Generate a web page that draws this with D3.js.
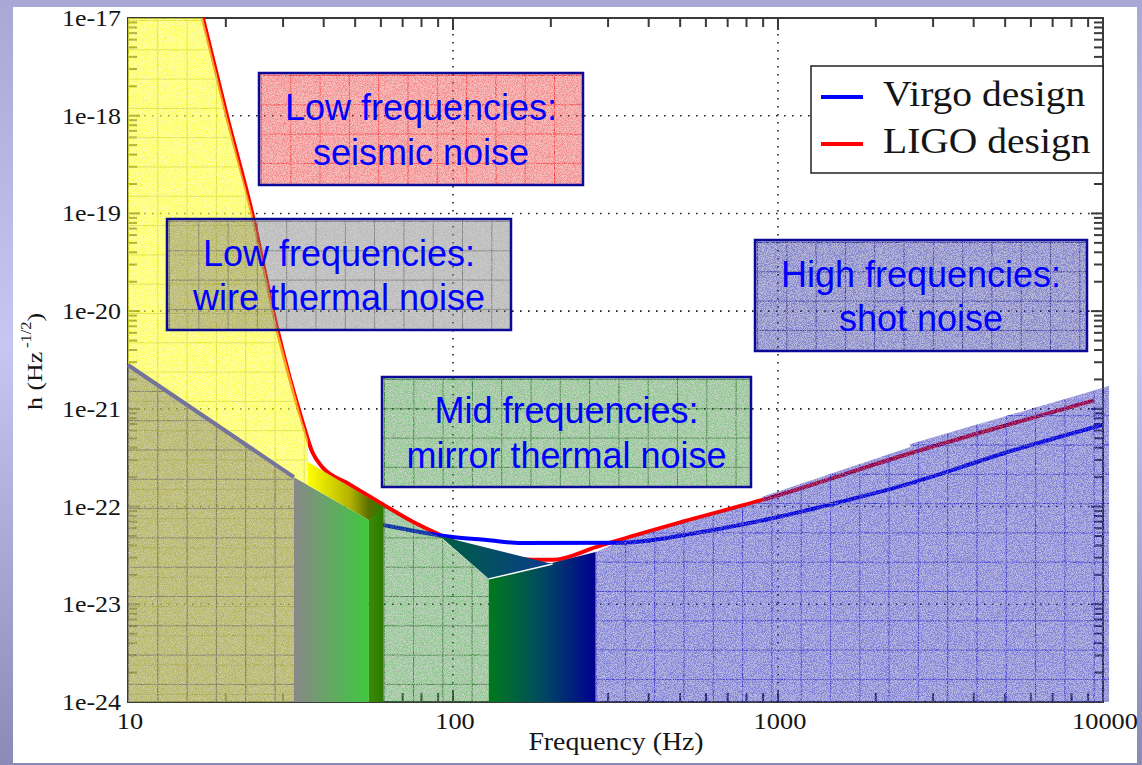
<!DOCTYPE html>
<html>
<head>
<meta charset="utf-8">
<script src="https://cdn.jsdelivr.net/npm/d3@7"></script>
<style>
  html, body { margin: 0; padding: 0; background: #fff; }
  svg { display: block; }
  .serif { font-family: "Liberation Serif", "Times New Roman", serif; fill: #151515; }
  .note { font-family: "Liberation Sans", Arial, sans-serif; font-size: 36px; fill: #0000ff; text-anchor: middle; }
</style>
</head>
<body>
<svg id="chart" width="1142" height="765"></svg>
<script>
// design sensitivity curves (Hz, strain / sqrt(Hz))
const ligoFreq = [17.0, 20.2, 24.1, 28.7, 34.3, 37.0, 39.8, 47.1, 61.2, 75.2, 91.0, 120.8, 175.8, 202.5, 276.6, 325.5, 508, 895, 2553, 9390];
const ligoStrain = [1e-17, 9.7e-19, 1.01e-19, 6.89e-21, 7.69e-22, 3.55e-22, 2.49e-22, 1.75e-22, 1.04e-22, 6.98e-23, 5.14e-23, 3.44e-23, 2.85e-23, 2.85e-23, 3.87e-23, 4.57e-23, 7.0e-23, 1.17e-22, 3.51e-22, 1.22e-21];
const virgoFreq = [58, 79.0, 99.8, 127, 160.3, 327.9, 589.8, 961, 1566, 2553, 5330, 9936];
const virgoStrain = [6.7e-23, 5.50e-23, 4.88e-23, 4.55e-23, 4.24e-23, 4.27e-23, 5.53e-23, 7.59e-23, 1.12e-22, 1.73e-22, 3.79e-22, 6.84e-22];
const wireFreq = [10, 32.4];
const wireStrain = [2.81e-21, 2.0e-22];

// shaded noise bands, [frequency, strain] corners
const seismicBand = [[10, 1e-17], [17, 1e-17], [20.2, 9.7e-19], [24.1, 1.01e-19], [28.7, 6.89e-21], [34.3, 7.69e-22], [35.8, 4.79e-22], [35.8, 1e-24], [10, 1e-24]];
const wireBand = [[10, 2.81e-21], [32.4, 2.0e-22], [32.4, 1e-24], [10, 1e-24]];
const mirrorBand = [[61.2, 9.9e-23], [75.2, 6.65e-23], [91, 4.9e-23], [128.8, 1.82e-23], [128.8, 1e-24], [61.2, 1e-24]];
const shotBand = [[274.6, 3.43e-23], [325.5, 4.4e-23], [508, 6.7e-23], [895, 1.13e-22], [895, 1.26e-22], [2553, 4.07e-22], [2553, 4.37e-22], [10440, 1.71e-21], [10440, 1e-24], [274.6, 1e-24]];
const grayToGreen = [[32.4, 2.0e-22], [55.1, 7.28e-23], [55.1, 1e-24], [32.4, 1e-24]];
const darkStrip = [[55.1, 1.22e-22], [61.2, 9.9e-23], [61.2, 1e-24], [55.1, 1e-24]];
const yellowToGreen = [[35.8, 2.86e-22], [61.2, 9.9e-23], [55.1, 7.28e-23], [35.8, 1.66e-22]];
const greenToBlueUpper = [[91, 5.0e-23], [202.5, 2.58e-23], [128.8, 1.82e-23]];
const greenToBlue = [[128.8, 1.82e-23], [274.6, 3.43e-23], [274.6, 1e-24], [128.8, 1e-24]];

const noteLabels = [
  ['Low frequencies:', 'seismic noise'],
  ['Low frequencies:', 'wire thermal noise'],
  ['Mid frequencies:', 'mirror thermal noise'],
  ['High frequencies:', 'shot noise']
];
const legendLabels = ['Virgo design', 'LIGO design'];
const xTitle = 'Frequency (Hz)';

const WIDTH = 1142, HEIGHT = 765;
const PLOT = { LEFT: 128, RIGHT: 1103, TOP: 18, BOTTOM: 702 };

const noteBoxes = [
  { x: 259, y: 73, w: 324, h: 112, fill: '#e60000', alpha: 0.42, grid: '#ff1414' },
  { x: 167, y: 219, w: 344, h: 111, fill: '#6e6e6e', alpha: 0.44, grid: '#5a5a5a' },
  { x: 382, y: 377, w: 369, h: 110, fill: '#008000', alpha: 0.42, grid: '#0a640a' },
  { x: 755, y: 240, w: 332, h: 111, fill: '#00009a', alpha: 0.46, grid: '#12128a' }
];

const svg = d3.select('#chart');
const defs = svg.append('defs');

const x = d3.scaleLog().domain([10, 10000]).range([PLOT.LEFT, PLOT.RIGHT]);
const y = d3.scaleLog().domain([1e-24, 1e-17]).range([PLOT.BOTTOM, PLOT.TOP]);
const path = d3.line().x(d => x(d[0])).y(d => y(d[1]));
const shape = pts => path(pts) + 'Z';
const isDecade = v => Math.abs(Math.log10(v) - Math.round(Math.log10(v))) < 1e-6;

function gradient(id, stops, x1, y1, x2, y2) {
  const g = defs.append('linearGradient').attr('id', id)
    .attr('gradientUnits', 'userSpaceOnUse')
    .attr('x1', x1).attr('y1', y1).attr('x2', x2).attr('y2', y2);
  stops.forEach(([o, c]) => g.append('stop').attr('offset', o).attr('stop-color', c));
  return `url(#${id})`;
}

function gridPattern(id, color, ox, oy) {
  const p = defs.append('pattern').attr('id', id)
    .attr('patternUnits', 'userSpaceOnUse')
    .attr('x', ox).attr('y', oy).attr('width', 29.3).attr('height', 29.3);
  p.append('path').attr('d', 'M0 0.5H29.3M0.5 0V29.3')
    .attr('stroke', color).attr('stroke-opacity', 0.6).attr('stroke-width', 1).attr('fill', 'none');
  return `url(#${id})`;
}

// speckled texture of the pasted shapes, kept faint
const grain = defs.append('filter').attr('id', 'grain')
  .attr('x', 0).attr('y', 0).attr('width', 1).attr('height', 1);
grain.append('feTurbulence').attr('type', 'fractalNoise').attr('baseFrequency', 1.1)
  .attr('numOctaves', 2).attr('seed', 4).attr('result', 'noise');
grain.append('feColorMatrix').attr('in', 'noise').attr('type', 'matrix')
  .attr('values', '0 0 0 0 0  0 0 0 0 0  0 0 0 0 0  0.6 0 0 0 -0.32').attr('result', 'dark');
grain.append('feColorMatrix').attr('in', 'noise').attr('type', 'matrix')
  .attr('values', '0 0 0 0 1  0 0 0 0 1  0 0 0 0 1  0 0.9 0 0 -0.4').attr('result', 'light');
grain.append('feComposite').attr('in', 'dark').attr('in2', 'SourceGraphic').attr('operator', 'in').attr('result', 'darkIn');
grain.append('feComposite').attr('in', 'light').attr('in2', 'SourceGraphic').attr('operator', 'in').attr('result', 'lightIn');
const merge = grain.append('feMerge');
['SourceGraphic', 'darkIn', 'lightIn'].forEach(n => merge.append('feMergeNode').attr('in', n));

// slide background
svg.append('rect').attr('width', WIDTH).attr('height', HEIGHT)
  .attr('fill', gradient('slideBg', [[0, '#a7a8d5'], [0.45, '#c6c6f4'], [1, '#8a8ab8']], 0, 0, 0, HEIGHT));
svg.append('rect').attr('x', 13).attr('y', 7).attr('width', 1124).attr('height', 756).attr('fill', '#fff');

// dotted decade grid
const xMajor = x.ticks().filter(isDecade).filter(v => v > 10 && v < 10000);
const yMajor = y.ticks().filter(isDecade).filter(v => v > 1e-24 * 1.5 && v < 1e-17 / 1.5);
const grid = svg.append('g').attr('stroke', '#222').attr('stroke-width', 1.6).attr('stroke-dasharray', '1.6,6.4');
grid.selectAll('.gx').data(xMajor).enter().append('line')
  .attr('x1', x).attr('x2', x).attr('y1', PLOT.TOP).attr('y2', PLOT.BOTTOM);
grid.selectAll('.gy').data(yMajor).enter().append('line')
  .attr('x1', PLOT.LEFT).attr('x2', PLOT.RIGHT).attr('y1', y).attr('y2', y);

// frame and inward ticks
svg.append('rect').attr('x', PLOT.LEFT).attr('y', PLOT.TOP)
  .attr('width', PLOT.RIGHT - PLOT.LEFT).attr('height', PLOT.BOTTOM - PLOT.TOP)
  .attr('fill', 'none').attr('stroke', '#3a3a3a').attr('stroke-width', 2);
const ticks = svg.append('g').attr('stroke', '#3a3a3a').attr('stroke-width', 2);
const tickLen = v => isDecade(v) ? 12 : 9;
x.ticks().forEach(v => {
  ticks.append('line').attr('x1', x(v)).attr('x2', x(v)).attr('y1', PLOT.TOP).attr('y2', PLOT.TOP + tickLen(v));
  ticks.append('line').attr('x1', x(v)).attr('x2', x(v)).attr('y1', PLOT.BOTTOM).attr('y2', PLOT.BOTTOM - tickLen(v));
});
y.ticks().forEach(v => {
  ticks.append('line').attr('y1', y(v)).attr('y2', y(v)).attr('x1', PLOT.LEFT).attr('x2', PLOT.LEFT + tickLen(v));
  ticks.append('line').attr('y1', y(v)).attr('y2', y(v)).attr('x1', PLOT.RIGHT).attr('x2', PLOT.RIGHT - tickLen(v));
});

// curves
const curve = d3.line().x(d => x(d[0])).y(d => y(d[1])).curve(d3.curveMonotoneX);
svg.append('path').datum(d3.zip(ligoFreq, ligoStrain)).attr('d', curve)
  .attr('fill', 'none').attr('stroke', '#ff0000').attr('stroke-width', 4);
svg.append('path').datum(d3.zip(virgoFreq, virgoStrain)).attr('d', curve)
  .attr('fill', 'none').attr('stroke', '#0000ff').attr('stroke-width', 4);

// translucent textured bands
function texturedBand(parent, d, fill, alpha, pattern) {
  const g = parent.append('g').attr('filter', 'url(#grain)');
  g.append('path').attr('d', d).attr('fill', fill).attr('fill-opacity', alpha);
  g.append('path').attr('d', d).attr('fill', pattern);
  return g;
}
const bands = svg.append('g');
texturedBand(bands, shape(seismicBand), '#ffff00', 0.6, gridPattern('gYellow', '#d4d400', PLOT.LEFT, 20));
texturedBand(bands, shape(wireBand), '#6e6e6e', 0.46, gridPattern('gWire', '#5a5a5a', PLOT.LEFT, 10));
texturedBand(bands, shape(mirrorBand), '#008000', 0.42, gridPattern('gMirror', '#0a640a', x(61.2), 10));
texturedBand(bands, shape(shotBand), '#0000b4', 0.47, gridPattern('gShot', '#1414c8', x(274.6), 5));

svg.append('path').datum(d3.zip(wireFreq, wireStrain)).attr('d', path)
  .attr('fill', 'none').attr('stroke', '#74749a').attr('stroke-width', 4);

// opaque transition wedges
function wedge(pts, id, stops) {
  const xs = pts.map(d => x(d[0]));
  svg.append('path').attr('d', shape(pts))
    .attr('fill', gradient(id, stops, d3.min(xs), 0, d3.max(xs), 0));
}
wedge(grayToGreen, 'wB', [[0, '#888888'], [1, '#3ec83e']]);
wedge(darkStrip, 'wS', [[0, '#3c8c06'], [1, '#2a7800']]);
wedge(yellowToGreen, 'wA', [[0, '#ffff00'], [0.55, '#b4b400'], [0.8, '#5a7000'], [1, '#2a7a00']]);
wedge(greenToBlue, 'wC', [[0, '#007a1c'], [0.5, '#004a60'], [1, '#000090']]);
wedge(greenToBlueUpper, 'wD', [[0, '#006040'], [1, '#0a3a8e']]);
svg.append('path').datum([greenToBlueUpper[2], greenToBlueUpper[1]]).attr('d', path)
  .attr('stroke', '#fff').attr('stroke-width', 1.5).attr('fill', 'none');

// annotation boxes
noteBoxes.forEach((b, i) => {
  const g = svg.append('g');
  const d = `M${b.x},${b.y}h${b.w}v${b.h}h${-b.w}Z`;
  texturedBand(g, d, b.fill, b.alpha, gridPattern(`gNote${i}`, b.grid, b.x + 2, b.y + 2));
  g.append('path').attr('d', d).attr('fill', 'none').attr('stroke', '#0a0a96').attr('stroke-width', 2.5);
  const cy = b.y + b.h / 2;
  g.selectAll('text').data(noteLabels[i]).enter().append('text')
    .attr('class', 'note')
    .attr('x', b.x + b.w / 2)
    .attr('y', (_, k) => cy - 9 + k * 44.5)
    .text(t => t);
});

// legend
const legend = svg.append('g');
legend.append('rect').attr('x', 811).attr('y', 66).attr('width', 292).attr('height', 107)
  .attr('fill', '#fff').attr('stroke', '#222').attr('stroke-width', 1.5);
const legendColors = ['#0000ff', '#ff0000'];
legendLabels.forEach((label, i) => {
  const ly = 97 + i * 47;
  legend.append('line').attr('x1', 821).attr('x2', 863).attr('y1', ly).attr('y2', ly)
    .attr('stroke', legendColors[i]).attr('stroke-width', 4);
  legend.append('text').attr('class', 'serif')
    .attr('transform', `translate(883,${ly + 9}) scale(1.13,1)`)
    .style('font-size', '35px').text(label);
});

// tick labels and titles
svg.selectAll('.ylab').data(y.ticks().filter(isDecade)).enter().append('text')
  .attr('class', 'serif')
  .attr('text-anchor', 'end')
  .attr('transform', d => `translate(121,${y(d) + 8}) scale(1.08,1)`)
  .style('font-size', '24px')
  .text(d => `1e${Math.round(Math.log10(d))}`);
svg.selectAll('.xlab').data(x.ticks().filter(isDecade)).enter().append('text')
  .attr('class', 'serif')
  .attr('text-anchor', 'middle')
  .attr('transform', d => `translate(${x(d) + 2},729) scale(1.1,1)`)
  .style('font-size', '24px')
  .text(d => d3.format('d')(d));
svg.append('text').attr('class', 'serif').attr('text-anchor', 'middle')
  .attr('transform', 'translate(616,750) scale(1.07,1)')
  .style('font-size', '26px').text(xTitle);

const yTitle = svg.append('text').attr('class', 'serif')
  .attr('transform', 'translate(42,410) rotate(-90) scale(1.18,1)')
  .style('font-size', '22px');
yTitle.append('tspan').text('h (Hz');
yTitle.append('tspan').attr('dy', -11).attr('dx', 3).style('font-size', '14px').text('-1/2');
yTitle.append('tspan').attr('dy', 11).text(')');
</script>
</body>
</html>
